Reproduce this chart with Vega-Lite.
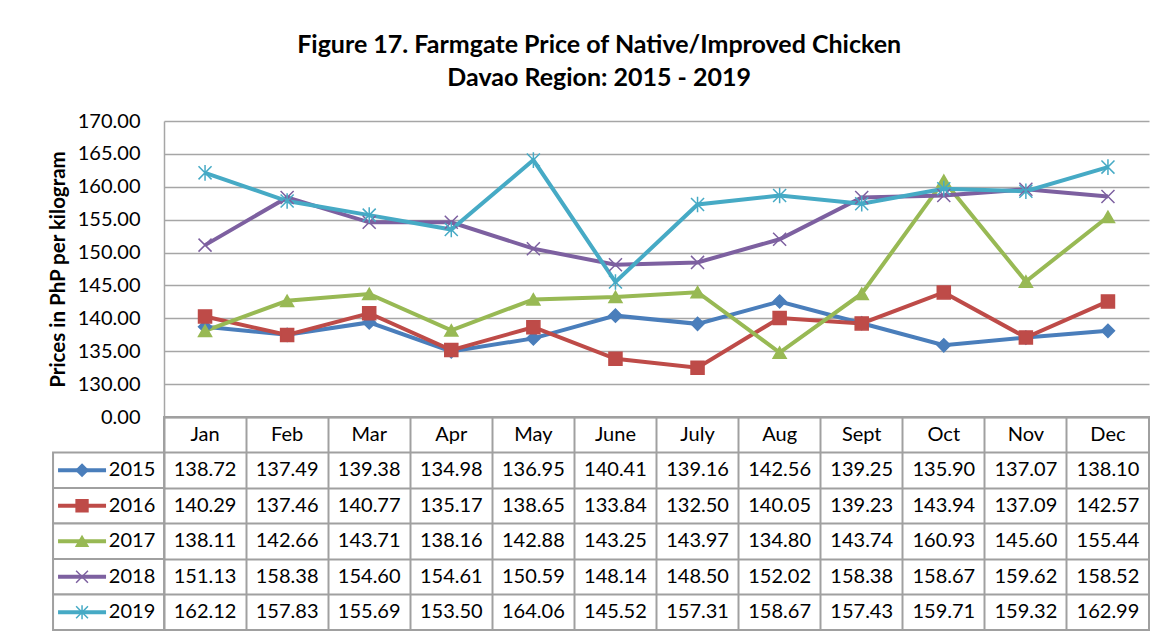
{
  "$schema": "https://vega.github.io/schema/vega-lite/v6.json",
  "background": "white",
  "padding": {"left": 48, "top": 33, "right": 5, "bottom": 5},
  "title": {
    "text": ["Figure 17. Farmgate Price of Native/Improved Chicken", "Davao Region: 2015 - 2019"],
    "font": "Lato", "fontSize": 25, "fontWeight": "bold", "lineHeight": 33,
    "anchor": "middle", "offset": 20, "color": "black"
  },
  "datasets": {
    "prices": [
      {"Series": "2015", "Month": "Jan", "Price": 138.72}, {"Series": "2015", "Month": "Feb", "Price": 137.49}, {"Series": "2015", "Month": "Mar", "Price": 139.38}, {"Series": "2015", "Month": "Apr", "Price": 134.98}, {"Series": "2015", "Month": "May", "Price": 136.95}, {"Series": "2015", "Month": "June", "Price": 140.41}, {"Series": "2015", "Month": "July", "Price": 139.16}, {"Series": "2015", "Month": "Aug", "Price": 142.56}, {"Series": "2015", "Month": "Sept", "Price": 139.25}, {"Series": "2015", "Month": "Oct", "Price": 135.90}, {"Series": "2015", "Month": "Nov", "Price": 137.07}, {"Series": "2015", "Month": "Dec", "Price": 138.10},
      {"Series": "2016", "Month": "Jan", "Price": 140.29}, {"Series": "2016", "Month": "Feb", "Price": 137.46}, {"Series": "2016", "Month": "Mar", "Price": 140.77}, {"Series": "2016", "Month": "Apr", "Price": 135.17}, {"Series": "2016", "Month": "May", "Price": 138.65}, {"Series": "2016", "Month": "June", "Price": 133.84}, {"Series": "2016", "Month": "July", "Price": 132.50}, {"Series": "2016", "Month": "Aug", "Price": 140.05}, {"Series": "2016", "Month": "Sept", "Price": 139.23}, {"Series": "2016", "Month": "Oct", "Price": 143.94}, {"Series": "2016", "Month": "Nov", "Price": 137.09}, {"Series": "2016", "Month": "Dec", "Price": 142.57},
      {"Series": "2017", "Month": "Jan", "Price": 138.11}, {"Series": "2017", "Month": "Feb", "Price": 142.66}, {"Series": "2017", "Month": "Mar", "Price": 143.71}, {"Series": "2017", "Month": "Apr", "Price": 138.16}, {"Series": "2017", "Month": "May", "Price": 142.88}, {"Series": "2017", "Month": "June", "Price": 143.25}, {"Series": "2017", "Month": "July", "Price": 143.97}, {"Series": "2017", "Month": "Aug", "Price": 134.80}, {"Series": "2017", "Month": "Sept", "Price": 143.74}, {"Series": "2017", "Month": "Oct", "Price": 160.93}, {"Series": "2017", "Month": "Nov", "Price": 145.60}, {"Series": "2017", "Month": "Dec", "Price": 155.44},
      {"Series": "2018", "Month": "Jan", "Price": 151.13}, {"Series": "2018", "Month": "Feb", "Price": 158.38}, {"Series": "2018", "Month": "Mar", "Price": 154.60}, {"Series": "2018", "Month": "Apr", "Price": 154.61}, {"Series": "2018", "Month": "May", "Price": 150.59}, {"Series": "2018", "Month": "June", "Price": 148.14}, {"Series": "2018", "Month": "July", "Price": 148.50}, {"Series": "2018", "Month": "Aug", "Price": 152.02}, {"Series": "2018", "Month": "Sept", "Price": 158.38}, {"Series": "2018", "Month": "Oct", "Price": 158.67}, {"Series": "2018", "Month": "Nov", "Price": 159.62}, {"Series": "2018", "Month": "Dec", "Price": 158.52},
      {"Series": "2019", "Month": "Jan", "Price": 162.12}, {"Series": "2019", "Month": "Feb", "Price": 157.83}, {"Series": "2019", "Month": "Mar", "Price": 155.69}, {"Series": "2019", "Month": "Apr", "Price": 153.50}, {"Series": "2019", "Month": "May", "Price": 164.06}, {"Series": "2019", "Month": "June", "Price": 145.52}, {"Series": "2019", "Month": "July", "Price": 157.31}, {"Series": "2019", "Month": "Aug", "Price": 158.67}, {"Series": "2019", "Month": "Sept", "Price": 157.43}, {"Series": "2019", "Month": "Oct", "Price": 159.71}, {"Series": "2019", "Month": "Nov", "Price": 159.32}, {"Series": "2019", "Month": "Dec", "Price": 162.99}
    ],
    "months": [
      {"Month": "Jan"}, {"Month": "Feb"}, {"Month": "Mar"}, {"Month": "Apr"}, {"Month": "May"}, {"Month": "June"},
      {"Month": "July"}, {"Month": "Aug"}, {"Month": "Sept"}, {"Month": "Oct"}, {"Month": "Nov"}, {"Month": "Dec"}
    ],
    "series": [{"Series": "2015"}, {"Series": "2016"}, {"Series": "2017"}, {"Series": "2018"}, {"Series": "2019"}]
  },
  "spacing": 0,
  "bounds": "flush",
  "vconcat": [
    {
      "width": 985,
      "height": 296,
      "data": {"name": "prices"},
      "encoding": {
        "x": {"field": "Month", "type": "ordinal",
              "sort": ["Jan", "Feb", "Mar", "Apr", "May", "June", "July", "Aug", "Sept", "Oct", "Nov", "Dec"],
              "scale": {"paddingInner": 0, "paddingOuter": 0}, "axis": null},
        "y": {"field": "Price", "type": "quantitative",
              "scale": {"domain": [125, 170], "nice": false, "zero": false},
              "axis": {
                "values": [125, 130, 135, 140, 145, 150, 155, 160, 165, 170],
                "labelExpr": "datum.value == 125 ? '0.00' : format(datum.value, '.2f')",
                "title": "Prices in PhP per kilogram",
                "titleFont": "Lato", "titleFontSize": 20.5, "titleFontWeight": "bold", "titleColor": "black", "titlePadding": 9,
                "labelFont": "Lato", "labelFontSize": 20, "labelColor": "black", "labelPadding": 24,
                "ticks": false, "domainColor": "#a6a6a6", "domainWidth": 1.5,
                "grid": true, "gridColor": "#a6a6a6", "gridWidth": 1.5, "gridOpacity": 1
              }},
        "color": {"field": "Series", "type": "nominal",
                  "scale": {"domain": ["2015", "2016", "2017", "2018", "2019"], "range": ["#4A7EBB", "#BE4B48", "#98B954", "#7D60A0", "#46AAC5"]},
                  "legend": null}
      },
      "layer": [
        {"mark": {"type": "line", "strokeWidth": 4}},
        {"mark": {"type": "point", "filled": true, "opacity": 1, "strokeWidth": 1.5, "size": 170},
         "encoding": {
           "shape": {"field": "Series", "type": "nominal",
                     "scale": {"domain": ["2015", "2016", "2017", "2018", "2019"],
                               "range": ["diamond", "square", "triangle-up", "M-1,-1L1,1M-1,1L1,-1", "M-1,-1L1,1M-1,1L1,-1M0,-1.2L0,1.2"]},
                     "legend": null},
           "stroke": {"field": "Series", "type": "nominal",
                      "scale": {"domain": ["2015", "2016", "2017", "2018", "2019"], "range": ["#4A7EBB", "#BE4B48", "#98B954", "#7D60A0", "#46AAC5"]},
                      "legend": null}
         }}
      ]
    },
    {
      "width": 985,
      "height": 213,
      "view": {"stroke": "#a0a0a0", "strokeWidth": 2},
      "encoding": {
        "x": {"field": "Month", "type": "ordinal",
              "sort": ["Jan", "Feb", "Mar", "Apr", "May", "June", "July", "Aug", "Sept", "Oct", "Nov", "Dec"],
              "scale": {"domain": ["Jan", "Feb", "Mar", "Apr", "May", "June", "July", "Aug", "Sept", "Oct", "Nov", "Dec"], "paddingInner": 0, "paddingOuter": 0},
              "axis": {"labels": false, "ticks": false, "domain": false, "title": null, "grid": true, "bandPosition": 0, "gridColor": "#a0a0a0", "gridWidth": 2, "gridOpacity": 1}},
        "y": {"field": "Series", "type": "ordinal",
              "scale": {"domain": ["hdr", "2015", "2016", "2017", "2018", "2019"], "paddingInner": 0, "paddingOuter": 0},
              "axis": {"labels": false, "ticks": false, "domain": false, "title": null, "grid": true, "bandPosition": 0, "gridColor": "#a0a0a0", "gridWidth": 2, "gridOpacity": 1}}
      },
      "layer": [
        {"data": {"name": "prices"},
         "mark": {"type": "text", "font": "Lato", "fontSize": 20, "color": "black"},
         "encoding": {"text": {"field": "Price", "type": "quantitative", "format": ".2f"}}},
        {"data": {"name": "months"},
         "mark": {"type": "text", "font": "Lato", "fontSize": 20, "color": "black"},
         "encoding": {"y": {"datum": "hdr", "type": "ordinal"}, "text": {"field": "Month"}}},
        {"data": {"name": "series"},
         "mark": {"type": "rect", "fill": "white", "stroke": "#a0a0a0", "strokeWidth": 2, "width": 111, "xOffset": -96.5},
         "encoding": {"x": {"datum": "Jan", "type": "ordinal"}}},
        {"data": {"name": "series"},
         "mark": {"type": "rule", "strokeWidth": 4, "xOffset": -147, "x2Offset": -99},
         "encoding": {"x": {"datum": "Jan", "type": "ordinal"}, "x2": {"datum": "Jan"},
                      "color": {"field": "Series", "type": "nominal",
                                "scale": {"domain": ["2015", "2016", "2017", "2018", "2019"], "range": ["#4A7EBB", "#BE4B48", "#98B954", "#7D60A0", "#46AAC5"]},
                                "legend": null}}},
        {"data": {"name": "series"},
         "mark": {"type": "point", "filled": true, "opacity": 1, "strokeWidth": 1.5, "size": 140, "xOffset": -123},
         "encoding": {"x": {"datum": "Jan", "type": "ordinal"},
                      "color": {"field": "Series", "type": "nominal",
                                "scale": {"domain": ["2015", "2016", "2017", "2018", "2019"], "range": ["#4A7EBB", "#BE4B48", "#98B954", "#7D60A0", "#46AAC5"]},
                                "legend": null},
                      "shape": {"field": "Series", "type": "nominal",
                                "scale": {"domain": ["2015", "2016", "2017", "2018", "2019"],
                                          "range": ["diamond", "square", "triangle-up", "M-1,-1L1,1M-1,1L1,-1", "M-1,-1L1,1M-1,1L1,-1M0,-1.2L0,1.2"]},
                                "legend": null},
                      "stroke": {"field": "Series", "type": "nominal",
                                 "scale": {"domain": ["2015", "2016", "2017", "2018", "2019"], "range": ["#4A7EBB", "#BE4B48", "#98B954", "#7D60A0", "#46AAC5"]},
                                 "legend": null}}},
        {"data": {"name": "series"},
         "mark": {"type": "text", "font": "Lato", "fontSize": 20, "color": "black", "xOffset": -73},
         "encoding": {"x": {"datum": "Jan", "type": "ordinal"}, "text": {"field": "Series"}}}
      ]
    }
  ],
  "config": {"font": "Lato", "view": {"stroke": null}}
}
